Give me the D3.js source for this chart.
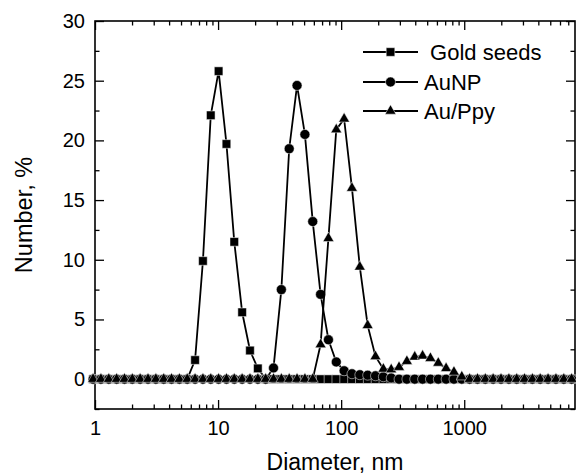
<!DOCTYPE html>
<meta charset="utf-8">
<style>
  body { margin: 0; background: #fff; }
  svg text { font-family: "Liberation Sans", Arial, sans-serif; fill: #000; }
  .tick line { stroke: #000; stroke-width: 1.3px; }
  .series path.line { fill: none; stroke: #000; stroke-width: 1.8px; }
  .series path.mark { fill: #000; stroke: #fff; stroke-width: 0.5px; }
</style>
<svg width="576" height="476"></svg>
<script src="https://cdn.jsdelivr.net/npm/d3@7"></script>
<script>

  // size bins (nm), shared by all three series
  var sizes = [0.4, 0.4632, 0.5365, 0.6213, 0.7195, 0.8332, 0.9649, 1.117, 1.294, 1.499,
    1.736, 2.01, 2.328, 2.696, 3.122, 3.615, 4.187, 4.849, 5.615, 6.503,
    7.531, 8.721, 10.1, 11.7, 13.54, 15.69, 18.17, 21.04, 24.36, 28.21,
    32.67, 37.84, 43.82, 50.75, 58.77, 68.06, 78.82, 91.28, 105.7, 122.4,
    141.8, 164.2, 190.1, 220.2, 255, 295.3, 342, 396.1, 458.7, 531.2,
    615.1, 712.4, 825, 955.4, 1106, 1281, 1484, 1718, 1990, 2305,
    2669, 3091, 3580, 4145, 4801, 5560, 6439, 7456, 8635, 10000];

  var goldSeeds = [0, 0, 0, 0, 0, 0, 0, 0, 0, 0,
    0, 0, 0, 0, 0, 0, 0, 0, 0, 1.6,
    9.9, 22.1, 25.8, 19.7, 11.5, 5.6, 2.4, 0.9, 0, 0,
    0, 0, 0, 0, 0, 0, 0, 0, 0, 0,
    0, 0, 0, 0, 0, 0, 0, 0, 0, 0,
    0, 0, 0, 0, 0, 0, 0, 0, 0, 0,
    0, 0, 0, 0, 0, 0, 0, 0, 0, 0];

  var auNP = [0, 0, 0, 0, 0, 0, 0, 0, 0, 0,
    0, 0, 0, 0, 0, 0, 0, 0, 0, 0,
    0, 0, 0, 0, 0, 0, 0, 0, 0, 0.94,
    7.5, 19.3, 24.6, 20.5, 13.2, 7.1, 3.3, 1.44, 0.7, 0.45,
    0.37, 0.33, 0.28, 0.2, 0.1, 0, 0, 0, 0, 0,
    0, 0, 0, 0, 0, 0, 0, 0, 0, 0,
    0, 0, 0, 0, 0, 0, 0, 0, 0, 0];

  var auPpy = [0, 0, 0, 0, 0, 0, 0, 0, 0, 0,
    0, 0, 0, 0, 0, 0, 0, 0, 0, 0,
    0, 0, 0, 0, 0, 0, 0, 0, 0, 0,
    0, 0, 0, 0, 0, 2.9, 11.8, 20.9, 21.8, 16.0,
    9.4, 4.5, 1.9, 0.85, 0.8, 1.0, 1.5, 1.86, 1.95, 1.75,
    1.35, 0.9, 0.6, 0.2, 0, 0, 0, 0, 0, 0,
    0, 0, 0, 0, 0, 0, 0, 0, 0, 0];

  var seriesNames = [" Gold seeds", "AuNP", "Au/Ppy"];
  var xMajor = [1, 10, 100, 1000];
  var yMajor = [0, 5, 10, 15, 20, 25, 30];

  var svg = d3.select("svg");
  var pLeft = 95, pRight = 575, pTop = 21, pBottom = 409;

  var x = d3.scaleLog().domain([1, 7943]).range([pLeft, pRight]);
  var y = d3.scaleLinear().domain([-2.5, 30]).range([pBottom, pTop]);

  // minor ticks 2..9 per decade
  var xMinor = [];
  xMajor.forEach(function (m) {
    for (var k = 2; k <= 9; k++) if (m * k < 7943) xMinor.push(m * k);
  });
  var yMinor = d3.range(-2.5, 30, 5);

  function addAxis(axisFn, scale, pos, values, size, labels) {
    var a = axisFn(scale).tickValues(values).tickSize(size).tickPadding(12)
      .tickFormat(labels ? d3.format("d") : "");
    var g = svg.append("g").attr("transform", pos).call(a);
    g.select(".domain").remove();
    return g;
  }

  var xl = addAxis(d3.axisBottom, x, "translate(0," + pBottom + ")", xMajor, -9, true);
  xl.selectAll("text").style("font-size", "20px").attr("dy", "0.7em");
  addAxis(d3.axisBottom, x, "translate(0," + pBottom + ")", xMinor, -4.5, false);
  addAxis(d3.axisTop, x, "translate(0," + pTop + ")", xMajor, -9, false);
  addAxis(d3.axisTop, x, "translate(0," + pTop + ")", xMinor, -4.5, false);

  var yl = addAxis(d3.axisLeft, y, "translate(" + pLeft + ",0)", yMajor, -9, true);
  yl.selectAll("text").style("font-size", "20px").attr("x", -10);
  addAxis(d3.axisLeft, y, "translate(" + pLeft + ",0)", yMinor, -4.5, false);
  addAxis(d3.axisRight, y, "translate(" + pRight + ",0)", yMajor, -9, false);
  addAxis(d3.axisRight, y, "translate(" + pRight + ",0)", yMinor, -4.5, false);

  svg.append("rect")
    .attr("x", pLeft).attr("y", pTop)
    .attr("width", pRight - pLeft).attr("height", pBottom - pTop)
    .attr("fill", "none").attr("stroke", "#000").attr("stroke-width", 1.6);

  // axis titles
  svg.append("text")
    .attr("x", (pLeft + pRight) / 2).attr("y", 470)
    .attr("text-anchor", "middle").style("font-size", "23px")
    .text("Diameter, nm");
  svg.append("text")
    .attr("transform", "translate(32," + (pTop + pBottom) / 2 + ") rotate(-90)")
    .attr("text-anchor", "middle").style("font-size", "23.5px")
    .text("Number, %");

  var symbols = [
    d3.symbol().type(d3.symbolSquare).size(74),
    d3.symbol().type(d3.symbolCircle).size(78),
    d3.symbol().type(d3.symbolTriangle).size(52)
  ];
  var allSeries = [goldSeeds, auNP, auPpy];

  var line = d3.line()
    .x(function (d) { return x(d.s); })
    .y(function (d) { return y(d.v); });

  allSeries.forEach(function (vals, i) {
    var pts = sizes.map(function (s, j) { return { s: s, v: vals[j] }; })
      .filter(function (d) { return d.s > 0.95 && d.s < 8000; });
    var g = svg.append("g").attr("class", "series");
    g.append("path").attr("class", "line").attr("d", line(pts));
    g.selectAll("path.mark").data(pts).enter().append("path")
      .attr("class", "mark")
      .attr("d", symbols[i])
      .attr("transform", function (d) { return "translate(" + x(d.s) + "," + y(d.v) + ")"; });
  });

  // legend
  var legendY = [52, 82, 111];
  seriesNames.forEach(function (name, i) {
    var g = svg.append("g").attr("class", "series")
      .attr("transform", "translate(363," + legendY[i] + ")");
    g.append("path").attr("class", "line").attr("d", "M0,0H55");
    g.append("path").attr("class", "mark").attr("d", symbols[i])
      .attr("transform", "translate(27.5,0)");
    g.append("text").attr("x", 61).attr("dy", "0.36em")
      .style("font-size", "22px").style("white-space", "pre")
      .text(name);
  });
</script>
